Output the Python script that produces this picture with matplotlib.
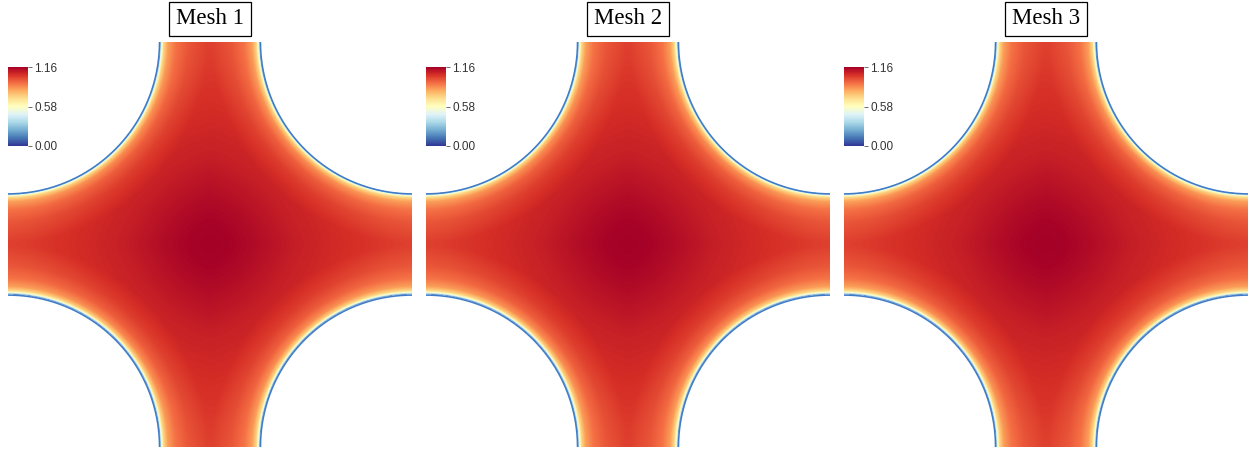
import numpy as np
import matplotlib
matplotlib.use("Agg")
import matplotlib.pyplot as plt
from matplotlib.colors import Normalize

# panels
titles = ["Mesh 1", "Mesh 2", "Mesh 3"]
panel_left_px = [8, 426, 844]

# colour scale
vmin, vmax = 0.00, 1.16
cbar_ticks = [0.00, 0.58, 1.16]

# geometry: unit square cell, quarter cylinders at every corner
cyl_radius = 0.375

# core magnitude against distance from the cell centre
centre_dist = [0.00, 0.05, 0.10, 0.20, 0.30, 0.40, 0.50, 0.71]
core_val = [1.16, 1.15, 1.13, 1.08, 1.05, 1.02, 1.00, 0.99]
# damping against distance from the nearest cylinder wall
wall_dist = [0.0, 0.003, 0.006, 0.010, 0.020, 0.040, 0.070, 0.120]
wall_frac = [0.00, 0.40, 0.58, 0.71, 0.83, 0.91, 0.96, 1.00]

W, H = 1252, 450
fig = plt.figure(figsize=(W / 100, H / 100), dpi=100)

n = 700
xs = np.linspace(0, 1, n)
X, Y = np.meshgrid(xs, xs)
corners = [(0, 0), (1, 0), (0, 1), (1, 1)]
d = np.min([np.hypot(X - cx, Y - cy) for cx, cy in corners], axis=0) - cyl_radius
# slightly diamond-shaped centre distance
rc = 0.6 * np.hypot(X - 0.5, Y - 0.5) + 0.4 * (np.abs(X - 0.5) + np.abs(Y - 0.5)) / np.sqrt(2)
field = np.interp(rc, centre_dist, core_val) * np.interp(d, wall_dist, wall_frac)
field = np.where(d < 0, np.nan, field)

cmap = plt.get_cmap("RdYlBu_r").copy()
cmap.set_bad((1, 1, 1, 0))
norm = Normalize(vmin, vmax)

for title, left in zip(titles, panel_left_px):
    ax = fig.add_axes([left / W, 3 / H, 404 / W, 405 / H])
    ax.imshow(field, cmap=cmap, norm=norm, origin="lower", extent=[0, 1, 0, 1],
              interpolation="bilinear", aspect="auto")
    t = np.linspace(0, np.pi / 2, 200)
    for cx, cy in corners:
        sx = 1 if cx == 0 else -1
        sy = 1 if cy == 0 else -1
        ax.plot(cx + sx * cyl_radius * np.cos(t), cy + sy * cyl_radius * np.sin(t),
                color="#3f7cc8", lw=1.1, solid_capstyle="butt")
    ax.set_xlim(0, 1)
    ax.set_ylim(0, 1)
    ax.axis("off")

    # title box
    fig.text((left + 202) / W, 1 - 19 / H, title, ha="center", va="center",
             fontsize=16.5, family="Liberation Serif",
             bbox=dict(boxstyle="square,pad=0.3", fc="white", ec="black", lw=0.9))

    # colour bar
    cax = fig.add_axes([left / W, 1 - 146 / H, 20 / W, 79 / H])
    cb = fig.colorbar(plt.cm.ScalarMappable(norm=norm, cmap="RdYlBu_r"), cax=cax, ticks=cbar_ticks)
    cb.outline.set_visible(False)
    cb.ax.set_yticklabels([f"{v:.2f}" for v in cbar_ticks])
    cb.ax.tick_params(labelsize=8.5, length=3, width=0.6, color="#555555",
                      labelcolor="#333333", pad=1.5)
    for lbl in cb.ax.get_yticklabels():
        lbl.set_family("Liberation Sans")

fig.savefig("out.png", dpi=100)
